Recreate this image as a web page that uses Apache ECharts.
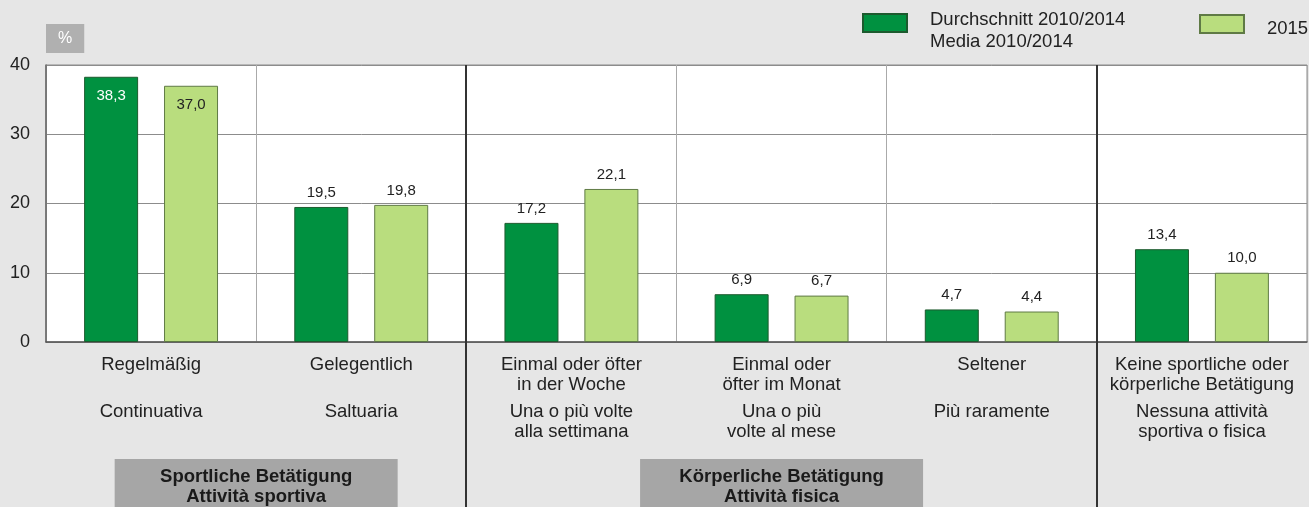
<!DOCTYPE html>
<html>
<head>
<meta charset="utf-8">
<script src="https://cdn.jsdelivr.net/npm/echarts@6/dist/echarts.min.js"></script>
<style>
  html, body { margin: 0; padding: 0; background: #e6e6e6; }
  #chart { width: 1309px; height: 507px; }
</style>
</head>
<body>
<div id="chart"></div>
<script>
// Kategorien (deutsch / italienisch)
const germanLabels = [
  'Regelmäßig',
  'Gelegentlich',
  'Einmal oder öfter\nin der Woche',
  'Einmal oder\nöfter im Monat',
  'Seltener',
  'Keine sportliche oder\nkörperliche Betätigung'
];
const italianLabels = [
  'Continuativa',
  'Saltuaria',
  'Una o più volte\nalla settimana',
  'Una o più\nvolte al mese',
  'Più raramente',
  'Nessuna attività\nsportiva o fisica'
];

// Serien
const seriesNames = ['Durchschnitt 2010/2014\nMedia 2010/2014', '2015'];
const avgValues = [38.3, 19.5, 17.2, 6.9, 4.7, 13.4];
const values2015 = [37.0, 19.8, 22.1, 6.7, 4.4, 10.0];

// Gruppen unter der Achse
const groupLabels = ['Sportliche Betätigung\nAttività sportiva', 'Körperliche Betätigung\nAttività fisica'];
const groupRanges = [[0, 1], [2, 4]];
// dicke Trennlinien nach diesen Kategorien
const separatorsAfter = [1, 4];

const yTicks = [0, 10, 20, 30, 40];

const DARK = '#009140';
const LIGHT = '#b9dd7e';
const TEXT = '#222';
const FONT = 'Liberation Sans, Arial, sans-serif';

const fmt = (v) => v.toFixed(1).replace('.', ',');

const chart = echarts.init(document.getElementById('chart'));

// Legende: Text etwas unterhalb der Symbolmitte, daher Abstandszeile oben
const legendBase = {
  orient: 'horizontal',
  padding: 0,
  itemWidth: 44,
  itemHeight: 18,
  icon: 'rect',
  selectedMode: false
};
const legendText = (spacer) => ({
  color: TEXT,
  fontSize: 18.5,
  padding: [0, 0, 0, 18],
  rich: {
    s: { fontSize: 4, lineHeight: spacer },
    t: { color: TEXT, fontSize: 18.5, lineHeight: 22 }
  }
});

chart.setOption({
  backgroundColor: '#e6e6e6',
  animation: false,
  textStyle: { fontFamily: FONT },
  legend: [
    Object.assign({}, legendBase, {
      left: 862,
      top: -1,
      data: [seriesNames[0]],
      formatter: (name) => '{s| }\n{t|' + name + '}',
      textStyle: legendText(16)
    }),
    Object.assign({}, legendBase, {
      left: 1199,
      top: 11,
      data: [seriesNames[1]],
      formatter: (name) => '{s| }\n{t|' + name + '}',
      textStyle: legendText(10)
    })
  ],
  grid: {
    left: 46,
    right: 2,
    top: 65,
    bottom: 165,
    show: true,
    backgroundColor: '#fff',
    borderColor: '#8a8a8a',
    borderWidth: 1
  },
  xAxis: [
    {
      type: 'category',
      data: germanLabels,
      axisLine: { lineStyle: { color: '#555', width: 1.5 } },
      axisTick: { show: false },
      axisLabel: { color: TEXT, fontSize: 18.5, lineHeight: 20, margin: 13, interval: 0 },
      splitLine: { show: true, lineStyle: { color: '#aaa', width: 1 } }
    },
    {
      type: 'category',
      data: italianLabels,
      position: 'bottom',
      offset: 47,
      axisLine: { show: false },
      axisTick: { show: false },
      axisLabel: { color: TEXT, fontSize: 18.5, lineHeight: 20, margin: 13, interval: 0 },
      splitLine: { show: false }
    }
  ],
  yAxis: {
    type: 'value',
    min: yTicks[0],
    max: yTicks[yTicks.length - 1],
    interval: yTicks[1] - yTicks[0],
    name: '%',
    nameLocation: 'end',
    nameGap: 12,
    nameTextStyle: {
      align: 'left',
      color: '#fff',
      fontSize: 16,
      backgroundColor: '#b0b0b0',
      padding: [7, 12, 6, 12]
    },
    axisLine: { show: true, lineStyle: { color: '#666', width: 1.5 } },
    axisTick: { show: false },
    axisLabel: { color: TEXT, fontSize: 18, margin: 16 },
    splitLine: { show: true, lineStyle: { color: '#8c8c8c', width: 1 } }
  },
  series: [
    {
      name: seriesNames[0],
      type: 'bar',
      barWidth: 54,
      barGap: '48%',
      itemStyle: { color: DARK, borderColor: '#1d5a2e', borderWidth: 1 },
      label: { show: true, position: 'top', distance: 7, color: TEXT, fontSize: 15, formatter: (p) => fmt(p.value) },
      data: avgValues.map((v, i) => i === 0
        ? { value: v, label: { position: 'insideTop', distance: 12, color: '#fff' } }
        : v)
    },
    {
      name: seriesNames[1],
      type: 'bar',
      barWidth: 54,
      itemStyle: { color: LIGHT, borderColor: '#5f7a45', borderWidth: 1 },
      label: { show: true, position: 'top', distance: 7, color: TEXT, fontSize: 15, formatter: (p) => fmt(p.value) },
      data: values2015.map((v, i) => i === 0
        ? { value: v, label: { position: 'insideTop', distance: 12, color: TEXT } }
        : v)
    }
  ]
});

// Gruppenboxen und dicke Trennlinien
const cx = (i) => chart.convertToPixel({ xAxisIndex: 0 }, i);
const step = cx(1) - cx(0);
const plotTop = 65;
const graphics = [];

separatorsAfter.forEach((i) => {
  const x = Math.round(cx(i) + step / 2);
  graphics.push({
    type: 'line',
    shape: { x1: x, y1: plotTop, x2: x, y2: 507 },
    style: { stroke: '#333', lineWidth: 2 },
    z: 10
  });
});

groupRanges.forEach((r, k) => {
  const center = (cx(r[0]) + cx(r[1])) / 2;
  const w = 283;
  graphics.push({
    type: 'rect',
    shape: { x: center - w / 2, y: 459, width: w, height: 60 },
    style: { fill: '#a6a6a6' },
    z: 5
  });
  graphics.push({
    type: 'text',
    x: center,
    y: 467,
    style: {
      text: groupLabels[k],
      fill: '#1a1a1a',
      font: 'bold 18.5px ' + FONT,
      lineHeight: 20,
      align: 'center',
      verticalAlign: 'top'
    },
    z: 6
  });
});

chart.setOption({ graphic: graphics });
</script>
</body>
</html>
